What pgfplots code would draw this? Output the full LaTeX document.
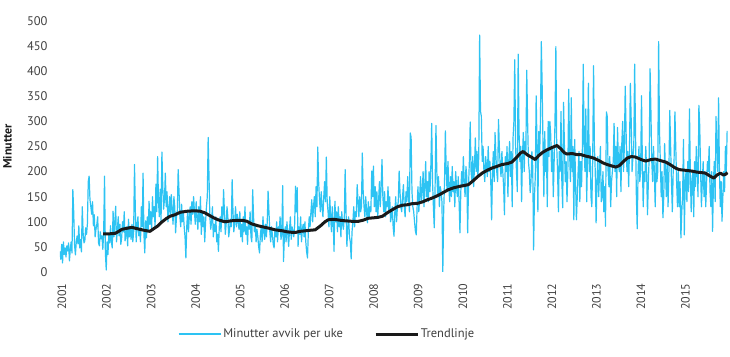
\documentclass[border=0pt]{standalone}
\usepackage{fontspec}
\setmainfont{PT Sans}
\usepackage{pgfplots}
\pgfplotsset{compat=1.18}
\definecolor{serblue}{RGB}{45,195,243}
\definecolor{trendblk}{RGB}{26,26,26}
\definecolor{ticktxt}{RGB}{64,64,64}
\definecolor{baseln}{RGB}{217,217,217}
\begin{document}
\begin{tikzpicture}
\begin{axis}[
  at={(60bp,85bp)}, anchor=south west,
  scale only axis, width=668bp, height=251bp,
  xmin=2001, xmax=2016, ymin=0, ymax=500,
  axis line style={draw=none},
  major tick length=0pt,
  xtick={2001,2002,2003,2004,2005,2006,2007,2008,2009,2010,2011,2012,2013,2014,2015},
  xticklabels={2001,2002,2003,2004,2005,2006,2007,2008,2009,2010,2011,2012,2013,2014,2015},
  xticklabel style={yshift=-8bp, rotate=90, anchor=east, font=\fontsize{12bp}{14bp}\selectfont, text=ticktxt, yshift=-2bp},
  ytick={0,50,...,500},
  yticklabel style={anchor=east, font=\fontsize{12.5bp}{14bp}\selectfont, text=ticktxt, xshift=-9bp},
  /pgf/number format/assume math mode=true,
  ylabel={Minutter},
  every axis y label/.style={at={(axis description cs:0,0.5)}, xshift=-52.5bp, rotate=90, anchor=center, font=\fontsize{12bp}{14bp}\selectfont\bfseries, text=trendblk},
  legend columns=2,
  legend style={draw=none, at={(0.400,0)}, anchor=center, yshift=-62bp, font=\fontsize{12.5bp}{14bp}\selectfont, text=ticktxt,
    /tikz/every even column/.append style={column sep=29bp}},
  legend image code/.code={\draw[#1] (0bp,0bp) -- (42bp,0bp);},
]
\draw[baseln, line width=1pt] (axis cs:2001,0) -- (axis cs:2016,0);
\addplot[serblue, line width=1.2bp, line join=round] table[header=false, x expr=2001+\coordindex/52, y index=0] {
41
25
55
18
60
35
48
30
52
42
58
22
45
60
38
164
120
54
34
60
72
56
92
48
65
40
130
78
58
62
88
75
96
180
191
144
130
115
140
92
114
70
85
95
110
58
52
80
66
72
45
78
191
38
4
60
35
75
58
92
60
48
121
70
98
131
60
85
110
72
95
55
68
100
80
120
62
75
90
52
105
70
88
65
95
60
80
214
120
60
95
110
72
85
60
130
90
197
75
38
102
68
110
80
141
95
120
85
150
110
130
90
175
120
230
140
110
165
100
239
170
125
145
197
130
160
100
120
150
115
154
124
95
150
130
78
110
120
204
160
110
90
135
100
120
90
70
28
90
120
80
110
130
95
140
115
150
120
95
140
110
85
130
100
150
75
120
90
110
60
100
130
150
268
190
110
85
100
130
70
95
80
110
60
75
41
90
110
80
130
100
164
120
75
95
130
110
70
85
105
90
184
120
80
100
130
90
115
100
85
120
70
95
60
110
80
130
75
90
55
100
85
120
70
60
164
110
80
95
60
85
70
50
38
75
90
60
110
80
65
95
70
100
161
120
80
60
90
75
55
48
85
70
100
60
90
80
110
65
75
172
21
70
90
60
100
75
51
85
110
65
90
80
70
95
171
120
168
51
90
75
110
60
85
95
70
100
60
40
28
80
110
90
120
144
100
130
150
110
170
130
249
180
144
120
160
130
110
150
180
140
229
140
120
90
150
110
80
130
100
41
141
100
120
80
130
90
110
70
120
95
85
110
204
120
51
90
110
70
60
26
80
100
130
90
120
110
174
140
110
150
120
130
237
161
130
110
150
120
98
140
110
130
120
201
150
211
130
170
120
160
110
140
180
130
171
224
150
120
160
110
140
130
170
120
150
100
111
130
90
71
120
150
100
130
140
201
160
130
120
150
174
130
110
160
140
190
150
120
277
268
160
130
120
100
81
74
130
170
120
150
190
140
160
200
130
170
220
150
180
140
200
160
210
296
180
130
88
170
292
200
150
190
130
170
160
140
0
120
180
281
200
160
220
170
140
190
150
210
160
180
130
200
170
150
190
140
78
160
200
170
230
180
150
210
190
78
170
220
299
200
180
230
170
210
267
200
240
190
230
472
320
310
220
250
200
180
230
210
190
250
200
220
180
104
200
240
180
278
230
200
180
304
250
210
190
240
200
170
114
230
200
250
150
220
260
190
240
130
267
300
423
250
200
160
434
280
220
250
140
230
278
200
260
240
402
300
220
200
158
180
240
210
44
150
190
351
250
120
280
230
300
459
370
250
150
280
200
240
130
300
230
300
274
200
250
150
220
300
449
250
200
120
240
200
320
180
128
338
250
180
220
140
200
364
240
180
347
200
250
104
264
180
104
150
200
240
140
220
170
250
414
250
200
325
140
230
376
200
250
150
130
220
411
250
200
98
180
230
150
200
250
140
150
200
120
170
91
319
310
200
170
230
130
180
200
220
296
200
250
150
288
220
200
250
160
256
300
200
250
370
280
200
240
170
250
376
300
200
230
250
414
280
150
86
200
250
180
200
351
220
130
200
180
250
200
114
180
230
405
319
220
180
250
200
130
220
180
200
459
280
220
150
200
108
150
256
200
150
220
130
200
322
250
180
120
200
220
319
250
180
130
200
130
180
68
120
150
264
74
180
200
140
220
160
325
200
120
180
200
110
220
170
250
200
150
332
291
200
130
180
220
150
200
130
180
220
200
250
160
130
200
81
180
220
140
310
250
200
347
200
130
180
101
150
200
160
250
200
281
};
\addlegendentry{Minutter avvik per uke}
\addplot[trendblk, line width=3bp, line join=round] table[header=false, x index=0, y index=1] {
2001.97 76
2002.10 76
2002.24 77
2002.30 80
2002.39 85
2002.50 87
2002.61 89
2002.70 87
2002.84 84
2002.95 82
2003.02 81
2003.10 86
2003.20 92
2003.28 99
2003.38 106
2003.47 111
2003.58 114
2003.70 119
2003.85 121
2004.03 122
2004.15 121
2004.25 118
2004.33 114
2004.45 108
2004.55 104
2004.70 100
2004.85 102
2005.00 103
2005.09 103
2005.20 101
2005.30 96
2005.45 92
2005.55 90
2005.70 87
2005.83 84
2006.00 82
2006.10 80
2006.21 79
2006.30 79
2006.39 81
2006.50 82
2006.60 83
2006.73 84
2006.85 92
2006.95 100
2007.02 104
2007.15 105
2007.30 103
2007.40 102
2007.55 101
2007.70 101
2007.80 103
2007.92 107
2008.05 108
2008.15 109
2008.24 111
2008.35 118
2008.46 124
2008.58 130
2008.69 133
2008.80 134
2008.90 136
2009.04 137
2009.15 140
2009.25 144
2009.35 147
2009.50 153
2009.62 159
2009.72 164
2009.85 168
2010.00 171
2010.17 174
2010.28 182
2010.38 190
2010.48 197
2010.60 203
2010.70 207
2010.80 210
2010.92 214
2011.05 216
2011.15 219
2011.25 228
2011.34 237
2011.40 240
2011.50 233
2011.60 228
2011.67 224
2011.75 232
2011.85 239
2011.95 244
2012.05 248
2012.16 252
2012.25 245
2012.32 238
2012.38 235
2012.50 236
2012.60 234
2012.69 234
2012.80 231
2012.90 229
2012.98 227
2013.10 222
2013.20 217
2013.29 214
2013.40 211
2013.48 209
2013.56 212
2013.65 220
2013.74 227
2013.83 230
2013.92 229
2014.05 224
2014.15 221
2014.27 224
2014.37 225
2014.48 222
2014.60 219
2014.70 214
2014.80 208
2014.90 204
2015.00 203
2015.10 202
2015.19 201
2015.30 199
2015.40 198
2015.49 197
2015.58 192
2015.68 187
2015.75 193
2015.83 197
2015.90 193
2015.95 195
2015.99 198
};
\addlegendentry{Trendlinje}
\end{axis}
\pgfresetboundingbox
\path[use as bounding box] (0,0) rectangle (730bp,357bp);
\end{tikzpicture}
\end{document}
